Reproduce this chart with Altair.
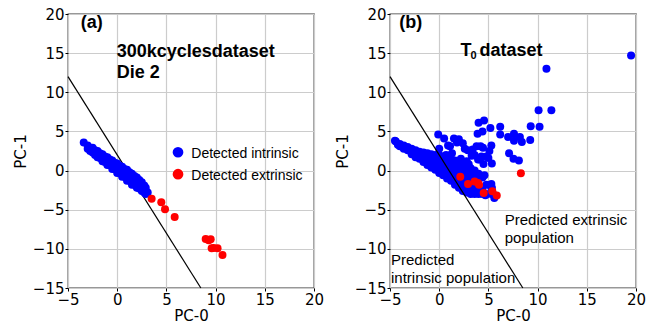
import altair as alt
import pandas as pd

# ---------------- data ----------------
line_x = [-5.0, 8.5]
line_y = [12.0, -15.0]

# panel (a): 300k cycles dataset, Die 2
a_blue_x = [-3.4, -3.0, -3.0, -2.5, -2.5, -2.5, -2.0, -2.0, -2.0, -1.5, -1.5, -1.5,
            -1.0, -1.0, -1.0, -0.5, -0.5, -0.5, 0.0, 0.0, 0.0, 0.5, 0.5, 0.5,
            1.0, 1.0, 1.0, 1.5, 1.5, 1.5, 2.0, 2.0, 2.0, 2.5, 2.5, 2.5,
            2.9, 2.9, 2.9, 3.1,
            -2.75, -2.75, -2.25, -2.25, -1.75, -1.75, -1.25, -1.25, -0.75, -0.75,
            -0.25, -0.25, 0.25, 0.25, 0.75, 0.75, 1.25, 1.25, 1.75, 1.75,
            2.25, 2.25, 2.75, 2.75]
a_blue_y = [3.6, 3.2, 2.8, 2.9, 2.6, 2.3, 2.5, 2.1, 1.7, 2.1, 1.6, 1.2,
            1.7, 1.2, 0.7, 1.3, 0.7, 0.2, 0.9, 0.3, -0.3, 0.5, -0.1, -0.8,
            0.1, -0.6, -1.3, -0.4, -1.1, -1.8, -0.9, -1.5, -2.2, -1.5, -2.0, -2.6,
            -2.2, -2.6, -3.0, -2.8,
            2.9, 2.5, 2.6, 2.0, 2.2, 1.6, 1.8, 1.1, 1.4, 0.7,
            1.0, 0.2, 0.6, -0.3, 0.2, -0.8, -0.2, -1.3, -0.7, -1.8,
            -1.2, -2.3, -1.9, -2.8]
a_red_x = [3.5, 4.48, 4.86, 5.84, 8.99, 9.3, 9.5, 9.6, 9.8, 10.2, 10.7]
a_red_y = [-3.6, -4.05, -4.95, -5.93, -8.74, -8.9, -8.78, -9.93, -9.9, -9.93, -10.8]

# panel (b): T0 dataset -- dense core
b_core_x = [-4.4,
            -4.0, -4.0,
            -3.6, -3.6,
            -3.2, -3.2,
            -2.8, -2.8, -2.8,
            -2.4, -2.4, -2.4,
            -2.0, -2.0, -2.0,
            -1.6, -1.6, -1.6, -1.6,
            -1.2, -1.2, -1.2, -1.2,
            -0.8, -0.8, -0.8, -0.8,
            -0.4, -0.4, -0.4, -0.4,
            0.0, 0.0, 0.0, 0.0, 0.0, 0.0,
            0.4, 0.4, 0.4, 0.4, 0.4,
            0.8, 0.8, 0.8, 0.8, 0.8,
            1.2, 1.2, 1.2, 1.2, 1.2,
            1.6, 1.6, 1.6, 1.6, 1.6, 1.6,
            2.0, 2.0, 2.0, 2.0, 2.0, 2.0,
            2.4, 2.4, 2.4, 2.4, 2.4, 2.4,
            2.8, 2.8, 2.8, 2.8, 2.8, 2.8,
            3.2, 3.2, 3.2, 3.2, 3.2, 3.2,
            3.6, 3.6, 3.6, 3.6, 3.6, 3.6,
            4.0, 4.0, 4.0, 4.0, 4.0,
            4.4, 4.4, 4.4,
            4.8, 4.8,
            5.3, 5.3,
            5.7]
b_core_y = [3.7,
            3.4, 3.1,
            3.2, 2.8,
            3.0, 2.6,
            2.8, 2.4, 2.1,
            2.6, 2.1, 1.7,
            2.4, 1.9, 1.5,
            2.3, 1.8, 1.3, 1.1,
            2.2, 1.6, 1.0, 0.7,
            2.1, 1.5, 0.9, 0.4,
            2.0, 1.4, 0.8, 0.1,
            2.8, 2.0, 1.3, 0.6, 0.0, -0.3,
            1.8, 1.2, 0.5, -0.2, -0.6,
            1.6, 1.0, 0.3, -0.4, -1.0,
            1.5, 0.8, 0.1, -0.6, -1.3,
            1.3, 0.6, -0.1, -0.8, -1.5, -1.8,
            1.1, 0.4, -0.3, -1.0, -1.7, -2.2,
            0.9, 0.2, -0.5, -1.2, -1.9, -2.6,
            0.6, 0.0, -0.7, -1.4, -2.1, -2.8,
            0.3, -0.4, -1.1, -1.8, -2.5, -3.0,
            0.0, -0.6, -1.3, -2.0, -2.7, -3.0,
            -0.4, -1.0, -2.2, -2.9, -3.0,
            -0.9, -2.5, -3.0,
            -1.8, -3.0,
            -2.2, -3.0,
            -3.2]
# panel (b): scattered points outside the core
b_spread_x = [19.5, 10.9, 10.1, 11.4, 9.3, 10.2, 4.56, 4.0, 5.2, 6.2, 7.6, 3.9, 4.4,
              6.2, 7.0, 7.6, 8.2, 8.4, 9.25, 7.1, 7.55, 8.1, -0.1, 0.5, 1.5, 2.4,
              1.1, 2.9, 3.4, 3.6, 3.95, 4.45, 5.3, 5.35, 4.5, 4.3, 4.8, 0.7, 1.3,
              2.0, 1.8, 3.8, 4.2, 5.1, 5.0, 4.1, 3.3, 4.6, 5.3, 5.35, 4.7, 5.6,
              -4.5, -4.2, 0.9, 2.6, 2.2, 2.8, 3.0]
b_spread_y = [14.7, 13.0, 7.7, 7.7, 5.65, 5.6, 6.4, 6.1, 5.45, 5.6, 4.7, 4.7, 5.0,
              4.6, 4.3, 3.8, 4.3, 3.65, 3.9, 2.2, 1.5, 1.3, 4.6, 4.1, 4.1, 3.5,
              3.1, 2.6, 2.7, 2.0, 1.4, 2.9, 3.2, 0.9, 0.85, 1.8, 1.8, 2.0, 2.2,
              4.0, 3.6, 3.1, 3.1, 2.5, 1.6, 1.4, 1.9, -0.6, -1.7, -2.2, -3.15, -3.5,
              3.8, 3.3, 3.2, 2.8, 1.5, 1.2, 0.8]
b_red_x = [2.14, 2.93, 3.6, 3.95, 4.05, 4.52, 5.4, 5.85, 8.3]
b_red_y = [-0.8, -1.7, -1.4, -1.6, -1.8, -2.86, -2.65, -3.2, -0.35]

x_ticks = [-5, 0, 5, 10, 15, 20]
y_ticks = [-15, -10, -5, 0, 5, 10, 15, 20]
legend_labels = ["Detected intrinsic", "Detected extrinsic"]
legend_colors = ["#0000ff", "#ff0000"]

# ---------------- styling ----------------
W, H = 246, 274
XS = alt.Scale(domain=[-5, 20], nice=False, zero=False)
YS = alt.Scale(domain=[-15, 20], nice=False, zero=False)
BLUE, RED = "#0000ff", "#ff0000"
PT = 64
SANS = "Liberation Sans"


def xax():
    return alt.Axis(values=x_ticks, title="PC-0", format="d", labelOverlap=False)


def yax():
    return alt.Axis(values=y_ticks, title="PC-1", format="d", labelOverlap=False)


def enc_xy(xf, yf):
    return dict(x=alt.X(xf, scale=XS, axis=xax()), y=alt.Y(yf, scale=YS, axis=yax()))


def points(xs, ys, color):
    df = pd.DataFrame({"x": xs, "y": ys})
    return alt.Chart(df).mark_circle(size=PT, opacity=1, color=color).encode(
        **enc_xy("x:Q", "y:Q"))


def boundary():
    df = pd.DataFrame({"x": line_x, "y": line_y})
    return alt.Chart(df).mark_line(color="black", strokeWidth=1.2).encode(
        **enc_xy("x:Q", "y:Q"))


def label(txt, x, y, size, bold=False, dx=0, dy=0):
    return alt.Chart().mark_text(
        text=txt, align="left", baseline="alphabetic", fontSize=size,
        fontWeight="bold" if bold else "normal", font=SANS, color="black", dx=dx, dy=dy,
    ).encode(x=alt.XDatum(datum=x, scale=XS, axis=xax()),
             y=alt.YDatum(datum=y, scale=YS, axis=yax()))


# panel (a)
leg_df = pd.DataFrame({"x": [6.18, 6.18], "y": [2.34, -0.46],
                       "tx": [7.53, 7.53], "ty": [1.6, -1.16],
                       "lab": legend_labels, "col": legend_colors})
leg_pts = alt.Chart(leg_df).mark_circle(size=115, opacity=1).encode(
    color=alt.Color("col:N", scale=None), **enc_xy("x:Q", "y:Q"))
leg_txt = alt.Chart(leg_df).mark_text(align="left", baseline="alphabetic",
                                      fontSize=14, font=SANS, color="black").encode(
    text="lab:N", **enc_xy("tx:Q", "ty:Q"))

panel_a = alt.layer(
    boundary(),
    points(a_blue_x, a_blue_y, BLUE),
    points(a_red_x, a_red_y, RED),
    label("(a)", -3.71, 18.25, 18, True),
    label("300kcyclesdataset", -0.05, 14.5, 18, True),
    label("Die 2", -0.05, 11.8, 18, True),
    leg_pts, leg_txt,
).properties(width=W, height=H)

# panel (b)
panel_b = alt.layer(
    points(b_core_x + b_spread_x, b_core_y + b_spread_y, BLUE),
    points(b_red_x, b_red_y, RED),
    boundary(),
    label("(b)", -4.05, 18.25, 18, True),
    label("T", 2.17, 14.6, 18, True),
    label("0", 2.17, 14.6, 11, True, dx=10, dy=3),
    label("dataset", 2.17, 14.6, 18, True, dx=19),
    label("Predicted extrinsic", 6.66, -6.9, 15),
    label("population", 6.66, -9.25, 15),
    label("Predicted", -4.9, -12.1, 15),
    label("intrinsic population", -4.9, -14.35, 15),
).properties(width=W, height=H)

chart = alt.hconcat(panel_a, panel_b, spacing=9).properties(
    padding={"left": 12, "top": 6, "right": 5, "bottom": 2}
).configure_view(
    stroke="#333333", strokeWidth=1.3
).configure_axis(
    grid=True, gridColor="#cccccc", gridWidth=1.2,
    domain=False, tickColor="black", tickSize=3, tickWidth=1,
    labelFont="DejaVu Sans", labelFontSize=15, labelColor="black", labelPadding=1,
    labelOverlap=False,
    titleFont="DejaVu Sans", titleFontSize=15, titleFontWeight="normal", titleColor="black",
).configure_axisY(titlePadding=4, labelFlush=False).configure_axisX(titlePadding=1, labelFlush=False)

chart.save("out.html", embed_options={"renderer": "svg", "actions": False})
